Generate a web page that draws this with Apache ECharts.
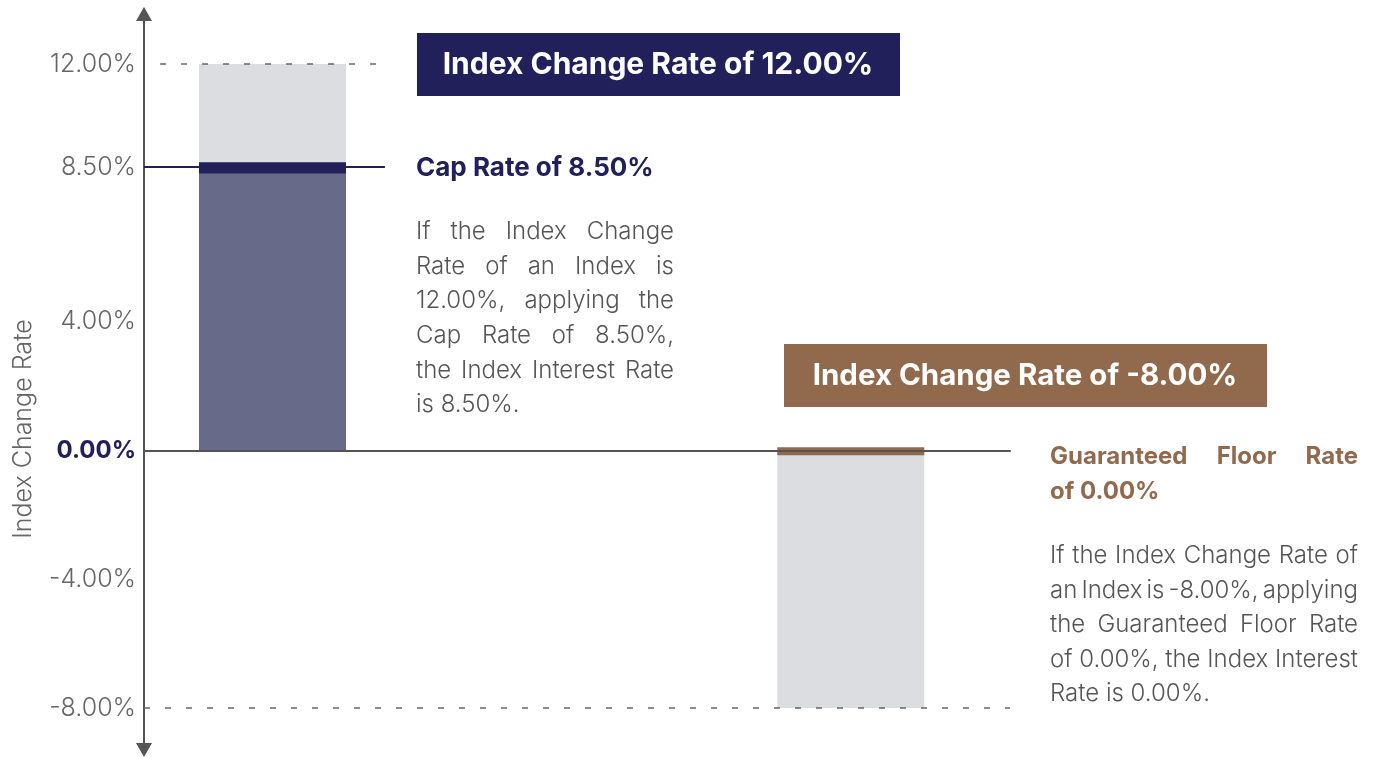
<!DOCTYPE html>
<html>
<head>
<meta charset="utf-8">
<title>Cap Rate and Guaranteed Floor Rate</title>
<script src="https://cdn.jsdelivr.net/npm/echarts@6/dist/echarts.min.js"></script>
<style>
  html, body { margin: 0; padding: 0; background: #fff; }
  #chart { width: 1373px; height: 758px; }
</style>
</head>
<body>
<div id="chart"></div>
<script>
// slots of the two bars on the hidden x axis
const barSlots = [1, 5.5];
const indexChange = [12, -8];          // grey: index change rate
const capTop = [8.95, 0];              // navy cap band, drawn under the credited part
const interestRate = [8.6, 0];         // credited part, under the cap
const floorBandUp = [0, 0.1];          // brown band round 0
const floorBandDown = [0, -0.15];
const capLevel = 8.8;                  // where the cap line is drawn
const refHalfSpan = 0.875;             // half length of the short reference lines
const tickValues = [12, 8.8, 4, 0, -4, -8];
const tickLabels = ['12.00%', '8.50%', '4.00%', '0.00%', '-4.00%', '-8.00%'];

const capTitle = 'Cap Rate of 8.50%';
const capText = [
  'If the Index Change',
  'Rate of an Index is',
  '12.00%, applying the',
  'Cap Rate of 8.50%,',
  'the Index Interest Rate',
  'is 8.50%.'
];
const floorTitle = ['Guaranteed Floor Rate', 'of 0.00%'];
const floorText = [
  'If the Index Change Rate of',
  'an Index is -8.00%, applying',
  'the Guaranteed Floor Rate',
  'of 0.00%, the Index Interest',
  'Rate is 0.00%.'
];

const NAVY = '#21205a';
const BROWN = '#916a4e';
const GREY_BAR = '#dcdde0';
const AXIS = '#555';
const FONT = 'Inter, "Noto Sans", sans-serif';

const pairs = (vals) => barSlots.map((x, i) => [x, vals[i]]);

// justified text made of one text element per word
const measureCtx = document.createElement('canvas').getContext('2d');
function textBlock(lines, x, y, width, lineH, font, color, justifyLast) {
  const out = [];
  measureCtx.font = font;
  lines.forEach((line, li) => {
    const ly = y + li * lineH;
    const words = line.split(' ');
    const last = li === lines.length - 1;
    if ((last && !justifyLast) || words.length < 2) {
      out.push({ type: 'text', x: x, y: ly, style: { text: line, font: font, fill: color, align: 'left', verticalAlign: 'middle' } });
      return;
    }
    const ws = words.map(w => measureCtx.measureText(w).width);
    const gap = (width - ws.reduce((a, b) => a + b, 0)) / (words.length - 1);
    let cx = x;
    words.forEach((w, i) => {
      out.push({ type: 'text', x: cx, y: ly, style: { text: w, font: font, fill: color, align: 'left', verticalAlign: 'middle' } });
      cx += ws[i] + gap;
    });
  });
  return out;
}

const barBase = { type: 'bar', barWidth: 147, barGap: '-100%', silent: true };

const chart = echarts.init(document.getElementById('chart'));
chart.setOption({
  animation: false,
  backgroundColor: '#fff',
  grid: { left: 144, right: 363, top: 14, bottom: 8 },
  xAxis: {
    type: 'value',
    min: 0,
    max: 6.739,
    z: 10,
    axisLine: { show: true, onZero: true, lineStyle: { color: AXIS, width: 2 } },
    axisTick: { show: false },
    axisLabel: { show: false },
    splitLine: { show: false }
  },
  yAxis: {
    type: 'value',
    min: -9.304,
    max: 13.553,
    name: 'Index Change Rate',
    nameLocation: 'middle',
    nameGap: 108,
    nameTextStyle: { fontFamily: FONT, fontSize: 25, fontWeight: 300, color: '#666', padding: [0, 94, 0, 0] },
    axisLine: { show: true, symbol: ['triangle', 'triangle'], symbolSize: [16, 14], lineStyle: { color: AXIS, width: 2 } },
    axisTick: { show: false },
    splitLine: { show: false },
    axisLabel: {
      customValues: tickValues,
      margin: 8,
      formatter: function (v) {
        const i = tickValues.indexOf(v);
        const t = i >= 0 ? tickLabels[i] : '';
        return v === 0 ? '{zero|' + t + '}' : '{t|' + t + '}';
      },
      rich: {
        t: { fontFamily: FONT, fontSize: 25, fontWeight: 300, color: '#666' },
        zero: { fontFamily: FONT, fontSize: 24, fontWeight: 'bold', color: NAVY }
      }
    }
  },
  series: [
    Object.assign({}, barBase, {
      name: 'Index Change Rate',
      data: pairs(indexChange),
      itemStyle: { color: GREY_BAR },
      markLine: {
        silent: true,
        symbol: 'none',
        label: { show: false },
        data: [
          [{ coord: [barSlots[0] - refHalfSpan, indexChange[0]], lineStyle: { color: '#666', width: 1.5, type: [6, 15] } },
           { coord: [barSlots[0] + refHalfSpan, indexChange[0]] }],
          [{ coord: [0, capLevel], lineStyle: { color: NAVY, width: 2, type: 'solid' } },
           { coord: [barSlots[0] + refHalfSpan, capLevel] }],
          { yAxis: indexChange[1], lineStyle: { color: '#666', width: 1.5, type: [6, 15] } }
        ]
      }
    }),
    Object.assign({}, barBase, {
      name: 'Cap Rate',
      data: pairs(capTop),
      itemStyle: { color: NAVY }
    }),
    Object.assign({}, barBase, {
      name: 'Index Interest Rate',
      data: pairs(interestRate),
      itemStyle: { color: '#686a8a' }
    }),
    Object.assign({}, barBase, {
      name: 'Guaranteed Floor Rate',
      data: pairs(floorBandUp),
      itemStyle: { color: BROWN }
    }),
    Object.assign({}, barBase, {
      name: 'Guaranteed Floor Rate low',
      data: pairs(floorBandDown),
      itemStyle: { color: BROWN }
    })
  ],
  graphic: [
    { type: 'rect', shape: { x: 417, y: 33, width: 483, height: 63 }, style: { fill: NAVY } },
    { type: 'text', x: 658, y: 65, style: { text: 'Index Change Rate of 12.00%', font: 'bold 30px ' + FONT, fill: '#fff', align: 'center', verticalAlign: 'middle' } },
    { type: 'rect', shape: { x: 784, y: 344, width: 483, height: 63 }, style: { fill: BROWN } },
    { type: 'text', x: 1025, y: 376, style: { text: 'Index Change Rate of -8.00%', font: 'bold 29.5px ' + FONT, fill: '#fff', align: 'center', verticalAlign: 'middle' } },
    { type: 'text', x: 416, y: 168, style: { text: capTitle, font: 'bold 26px ' + FONT, fill: NAVY, align: 'left', verticalAlign: 'middle' } }
  ]
    .concat(textBlock(capText, 416, 232, 258, 34.6, '300 24px ' + FONT, '#555', false))
    .concat(textBlock(floorTitle, 1050, 457, 308, 35, 'bold 24px ' + FONT, BROWN, false))
    .concat(textBlock(floorText, 1050, 556, 308, 34.5, '300 24px ' + FONT, '#555', false))
});
</script>
</body>
</html>
